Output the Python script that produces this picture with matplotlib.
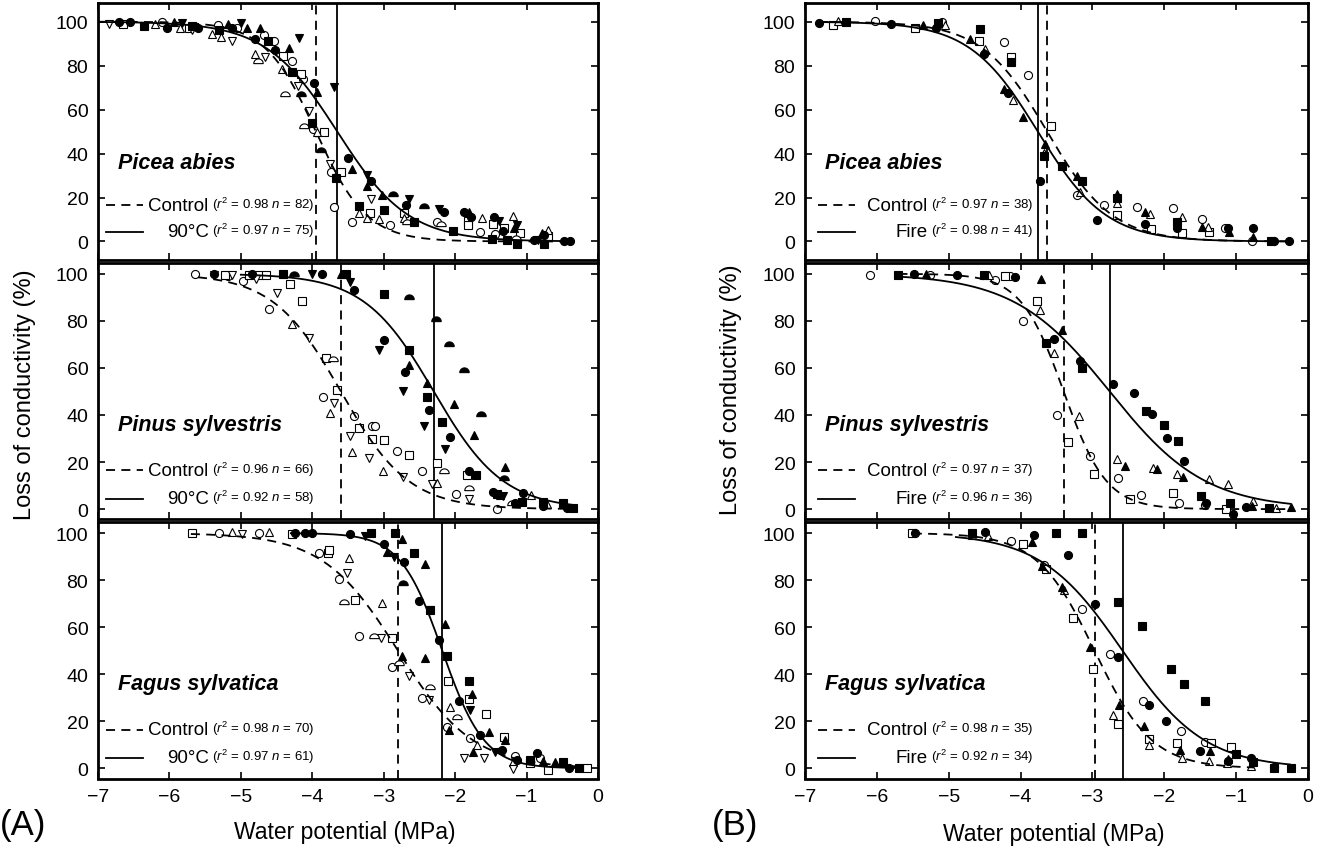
import numpy as np
import matplotlib
matplotlib.use("Agg")
import matplotlib.pyplot as plt
from matplotlib.path import Path

plt.rcParams['font.family'] = ['Liberation Sans', 'DejaVu Sans']
plt.rcParams['mathtext.fontset'] = 'custom'
plt.rcParams['mathtext.rm'] = 'Liberation Sans'
plt.rcParams['mathtext.it'] = 'Liberation Sans:italic'

# ---- data: (water potential MPa, loss of conductivity %, sample id) ----
# sample id: 1 circle, 2 square, 3 up-triangle, 4 down-triangle, 5 half disc
a1_control = [(-6.1,100,1),(-5.32,98.5,1),(-5.06,97,1),(-4.68,94,1),(-4.53,91,1),(-4.29,82,1),(-4.13,74,1),
              (-3.99,51.4,1),(-3.74,31.6,1),(-3.7,15.8,1),(-3.44,9,1),(-2.91,7.5,1),(-2.26,8.7,1),(-1.65,4.5,1),(-1.44,3.3,1),
              (-6.65,99,2),(-5.73,97,2),(-4.41,84.5,2),(-4.16,76,2),(-3.84,50,2),(-3.6,31.6,2),(-3.19,12.8,2),(-2.72,12.8,2),
              (-1.82,9.3,2),(-1.82,7.5,2),(-1.47,7.8,2),(-1.31,6,2),(-1.09,3.8,2),(-0.7,2.3,2),
              (-6.2,99,3),(-5.85,97,3),(-5.4,94.4,3),(-5.28,93,3),(-4.8,85.4,3),(-4.42,78.5,3),(-3.93,49.6,3),(-3.35,12.8,3),
              (-3.24,10.5,3),(-3.06,10.2,3),(-2.72,10.5,3),(-1.62,10.5,3),(-1.19,11.7,3),(-0.7,5.3,3),
              (-6.85,99,4),(-5.68,96,4),(-5.13,91.4,4),(-4.66,84,4),(-4.2,70.7,4),(-4.05,59.4,4),(-3.75,35.3,4),(-3.18,19.2,4),
              (-4.76,82,5),(-4.38,67,5),(-4.12,52.6,5),(-2.68,9,5),(-2.2,7.8,5),(-1.15,1.5,5)]
a1_treated = [(-6.7,100,1),(-6.55,100,1),(-6.03,97,1),(-5.6,97,1),(-5.12,97,1),(-4.8,92,1),(-4.52,87,1),(-3.97,72,1),
              (-3.5,37.9,1),(-3.18,27.4,1),(-2.69,16.5,1),(-2.16,13.5,1),(-1.88,13.5,1),(-1.78,11.3,1),(-1.46,11.3,1),
              (-1.33,4.8,1),(-0.9,0.75,1),(-0.75,3,1),(-0.48,0,1),(-0.39,0,1),
              (-6.35,98,2),(-5.68,98,2),(-5.3,96,2),(-4.62,91,2),(-4.28,77,2),(-4.0,53.7,2),(-3.67,28.9,2),(-3.35,16.2,2),
              (-2.99,14.3,2),(-2.57,9,2),(-2.03,4.8,2),(-1.49,1.3,2),(-1.27,0.75,2),(-1.13,-1.2,2),(-0.75,-1.2,2),
              (-5.94,100,3),(-5.18,99,3),(-4.91,97,3),(-4.73,97,3),(-4.32,88,3),(-3.94,68,3),(-3.44,33,3),(-3.24,25.4,3),
              (-3.02,21,3),(-1.8,13.2,3),(-1.18,6,3),(-0.79,3.8,3),
              (-5.82,99.5,4),(-5.0,99.5,4),(-4.18,92.5,4),(-3.7,70.4,4),(-3.24,30.4,4),(-2.64,19.2,4),(-2.23,14.6,4),
              (-1.38,9.3,4),(-1.14,7.5,4),(-0.84,0.75,4),
              (-4.16,67,5),(-3.88,41.8,5),(-2.87,21.4,5),(-2.44,16.2,5)]

a2_control = [(-5.64,100,1),(-5.18,99,1),(-4.97,97,1),(-4.61,85.2,1),(-3.85,47.5,1),(-3.42,39.6,1),(-3.16,35.4,1),
              (-3.12,35.4,1),(-2.81,24.6,1),(-2.47,16.1,1),(-1.99,6.6,1),(-1.42,0,1),
              (-5.22,99.7,2),(-4.88,99.7,2),(-4.75,99.7,2),(-4.65,99.4,2),(-4.31,95.8,2),(-4.14,88.4,2),(-3.81,64.2,2),
              (-3.65,50.6,2),(-3.35,34.5,2),(-3.16,29.7,2),(-2.99,29.3,2),(-2.65,22.9,2),(-2.26,19.7,2),(-1.84,14.4,2),
              (-4.28,78.6,3),(-3.75,40.8,3),(-3.44,24.3,3),(-3.01,16.1,3),(-2.26,11.3,3),(-1.37,5.9,3),(-0.94,5.9,3),(-0.72,2,3),
              (-5.38,99.7,4),(-5.13,99.4,4),(-4.79,97.9,4),(-4.5,92,4),(-4.05,72.6,4),(-3.69,45,4),(-3.47,31.1,4),
              (-3.21,21.8,4),(-2.73,13.7,4),(-2.33,10.5,4),(-1.8,4.5,4),
              (-3.71,63.7,5),(-2.16,16.1,5),(-1.8,8.8,5),(-1.21,2.4,5)]
a2_treated = [(-5.38,100,1),(-4.84,100,1),(-3.87,100,1),(-3.41,93,1),(-3.0,72,1),(-2.7,58.3,1),(-2.36,42.3,1),
              (-2.07,30.7,1),(-1.8,16.1,1),(-1.47,7.4,1),(-1.16,2.4,1),(-1.05,7,1),(-0.77,1.4,1),(-0.44,0.6,1),
              (-4.41,100,2),(-3.53,100,2),(-2.99,91.5,2),(-2.64,67.5,2),(-2.4,47.7,2),(-2.19,37.1,2),(-1.71,14.4,2),
              (-1.42,6.6,2),(-1.07,3.1,2),(-0.77,3.1,2),(-0.49,2.4,2),(-0.35,0.6,2),
              (-3.6,100,3),(-2.64,61.4,3),(-2.4,53.6,3),(-2.01,44.6,3),(-1.73,31.4,3),(-1.3,17.7,3),
              (-4.0,100,4),(-3.47,96.7,4),(-3.06,67.5,4),(-2.73,50,4),(-2.43,35.4,4),(-2.14,25.5,4),(-1.33,5.7,4),
              (-4.26,100,5),(-2.65,90,5),(-2.27,81,5),(-2.08,70,5),(-1.87,59,5),(-1.64,40.6,5),(-1.32,13.3,5)]

a3_control = [(-5.31,100,1),(-4.74,100,1),(-3.9,91.5,1),(-3.63,80.3,1),(-3.34,56.2,1),(-2.88,42.9,1),(-2.47,29.7,1),
              (-2.11,17.4,1),(-1.79,12.7,1),(-1.16,5.4,1),(-0.81,4.2,1),
              (-5.69,100,2),(-4.29,99.4,2),(-3.78,91.5,2),(-3.76,93,2),(-3.4,71.4,2),(-2.89,55.2,2),(-2.1,37.2,2),
              (-1.81,29.3,2),(-1.57,22.9,2),(-1.32,13.4,2),(-0.95,2.1,2),(-0.7,-0.7,2),(-0.16,0,2),
              (-5.12,100.4,3),(-4.61,100.4,3),(-3.48,89.5,3),(-3.03,70.3,3),(-2.07,26.2,3),(-1.69,9.9,3),(-1.19,2.8,3),
              (-4.99,99.4,4),(-3.52,83,4),(-3.04,55.6,4),(-2.65,39.2,4),(-2.37,29,4),(-1.88,4.5,4),(-1.59,4.2,4),(-1.19,-0.4,4),
              (-3.56,70.7,5),(-3.13,56.2,5),(-2.78,44.8,5),(-2.35,34.4,5),(-1.98,21.9,5)]
a3_treated = [(-4.24,100,1),(-4.1,100,1),(-4.0,100,1),(-3.47,99.4,1),(-3.0,95.2,1),(-2.72,87.7,1),(-2.5,71.1,1),
              (-2.23,54.7,1),(-1.95,28.7,1),(-1.65,14.1,1),(-1.35,7.8,1),(-1.14,3.5,1),(-0.86,6.6,1),(-0.4,0,1),
              (-3.18,100,2),(-2.84,100,2),(-2.58,91.5,2),(-2.35,67.2,2),(-2.12,47.7,2),(-1.81,37.2,2),(-0.95,3.5,2),
              (-0.49,2.8,2),(-0.26,0,2),
              (-2.95,92,3),(-2.74,97.6,3),(-2.42,87,3),(-2.14,61.5,3),(-2.74,47.7,3),(-2.42,47.1,3),(-1.77,31.8,3),
              (-2.08,16.5,3),(-1.53,15.6,3),(-1.3,12,3),(-1.75,7.1,3),(-0.77,3.3,3),(-0.6,2.5,3),
              (-3.26,98.6,4),(-2.86,89.8,4),(-2.35,67.2,4),(-1.79,24.8,4),(-1.44,7.1,4),
              (-2.73,78.8,5)]

b1_control = [(-6.03,100.3,1),(-5.09,99.9,1),(-4.23,90.6,1),(-3.89,75.6,1),(-3.22,21,1),(-2.84,16.5,1),(-2.38,15.7,1),
              (-1.88,15.3,1),(-1.47,10.2,1),(-1.16,6,1),(-0.78,0.3,1),
              (-6.61,98.4,2),(-5.47,97,2),(-4.58,91.3,2),(-4.13,83.8,2),(-3.57,52.7,2),(-2.66,12,2),(-2.18,5.7,2),
              (-1.76,3.7,2),(-1.38,4.5,2),
              (-6.54,100.3,3),(-5.05,98.5,3),(-4.49,87.6,3),(-4.11,64.4,3),(-3.67,40.4,3),(-3.17,22.5,3),(-2.66,17.7,3),
              (-2.2,12.3,3),(-1.76,11.2,3),(-1.39,6.7,3)]
b1_treated = [(-6.81,99.6,1),(-5.81,99.1,1),(-5.17,97.3,1),(-4.51,85.3,1),(-4.17,67.7,1),(-3.73,27.7,1),(-2.94,9.7,1),
              (-2.27,7.8,1),(-1.82,6.3,1),(-1.12,6.3,1),(-0.77,6.3,1),(-0.48,0.4,1),(-0.26,0,1),
              (-6.43,99.9,2),(-5.15,99.6,2),(-4.56,96.6,2),(-4.14,81.6,2),(-3.68,38.9,2),(-3.43,34.4,2),(-3.15,27.7,2),
              (-2.66,19.8,2),(-1.82,9,2),(-0.51,0,2),
              (-5.36,98.5,3),(-4.7,92,3),(-4.23,69.2,3),(-3.97,56.6,3),(-3.66,44.2,3),(-3.21,29.9,3),(-2.66,21.7,3),
              (-2.27,13.5,3),(-1.47,6.7,3),(-1.1,4.5,3),(-0.77,2.2,3)]

b2_control = [(-6.09,99.7,1),(-5.26,99.7,1),(-4.36,97.3,1),(-4.15,99,1),(-3.97,79.9,1),(-3.49,40.1,1),(-3.03,22.5,1),
              (-2.64,13.4,1),(-2.32,6.1,1),(-1.8,2.8,1),(-1.44,1.8,1),
              (-4.22,99,2),(-3.77,88.3,2),(-3.34,28.6,2),(-2.98,14.8,2),(-2.48,4.2,2),(-1.88,7,2),(-1.14,0,2),
              (-4.44,99.4,3),(-3.73,84.5,3),(-3.53,66.5,3),(-3.19,39.4,3),(-2.66,21.1,3),(-2.16,17.3,3),(-1.82,15.1,3),
              (-1.38,13,3),(-1.12,10.6,3),(-0.77,3.5,3),(-0.45,0.4,3)]
b2_treated = [(-5.49,100,1),(-4.89,99.7,1),(-4.08,98.6,1),(-3.53,72.5,1),(-3.17,63,1),(-2.71,53.1,1),(-2.42,49.3,1),
              (-2.17,40.4,1),(-1.96,30.3,1),(-1.73,20.4,1),(-1.42,2.8,1),(-1.05,-2.1,1),(-0.86,0.7,1),
              (-5.7,99.7,2),(-4.51,99.7,2),(-3.64,70.4,2),(-3.15,60.1,2),(-2.26,41.8,2),(-2.0,35.9,2),(-1.81,28.9,2),
              (-1.49,5.6,2),(-1.09,2.8,2),(-0.54,0.4,2),
              (-5.32,100,3),(-3.71,97.6,3),(-3.43,76.3,3),(-2.54,18.3,3),(-2.1,16.9,3),(-1.74,13.8,3),(-0.78,1.4,3),(-0.24,0.7,3)]

b3_control = [(-4.13,96.8,1),(-3.68,86.3,1),(-3.14,67.6,1),(-2.76,48.7,1),(-2.29,28.5,1),(-1.77,15.7,1),(-1.43,11.2,1),
              (-5.51,100,2),(-3.96,95.4,2),(-3.64,84.9,2),(-3.27,63.8,2),(-2.99,42.1,2),(-2.65,18.7,2),(-2.21,12.6,2),
              (-1.82,10.8,2),(-1.35,10.8,2),(-1.07,9.1,2),
              (-4.67,99.2,3),(-4.46,98.6,3),(-3.4,75.7,3),(-2.71,22.7,3),(-2.21,10.1,3),(-1.76,4.2,3),(-1.38,3.2,3),
              (-1.13,2.4,3),(-0.79,1.1,3)]
b3_treated = [(-5.47,100,1),(-4.5,100.3,1),(-3.81,99.3,1),(-3.34,90.7,1),(-2.97,69.7,1),(-2.64,47.3,1),(-2.21,26.9,1),
              (-1.97,20.3,1),(-1.5,7.4,1),(-1.12,3.2,1),(-0.79,4.2,1),(-0.47,0.4,1),
              (-4.68,100,2),(-3.51,100,2),(-3.14,100,2),(-2.65,70.5,2),(-2.31,60.3,2),(-1.91,42.1,2),(-1.73,35.8,2),
              (-1.43,28.8,2),(-1.0,5.9,2),(-0.77,2.8,2),(-0.47,0,2),(-0.24,0,2),
              (-3.84,96.4,3),(-3.7,86,3),(-3.43,77.1,3),(-3.03,51.5,3),(-2.63,27.1,3),(-2.28,18,3),(-1.78,7.7,3),
              (-1.37,7.4,3),(-1.12,3.8,3)]

# fitted curves: (P50, slope, psi start, psi end)
a1_fit = [(-3.95, 2.8, -7.0, -0.35), (-3.65, 2.0, -7.0, -0.35)]
a2_fit = [(-3.60, 2.1, -5.6, -0.4), (-2.30, 2.05, -5.0, -0.35)]
a3_fit = [(-2.80, 1.9, -5.7, -0.3), (-2.18, 3.4, -4.3, -0.3)]
b1_fit = [(-3.63, 2.2, -6.8, -0.25), (-3.76, 2.1, -6.8, -0.25)]
b2_fit = [(-3.40, 3.35, -5.7, -0.3), (-2.76, 1.5, -5.7, -0.25)]
b3_fit = [(-2.97, 2.5, -5.5, -0.75), (-2.58, 1.75, -4.9, -0.25)]

species = ["Picea abies", "Pinus sylvestris", "Fagus sylvatica"]
a_stats = [("0.98", "82", "0.97", "75"), ("0.96", "66", "0.92", "58"), ("0.98", "70", "0.97", "61")]
b_stats = [("0.97", "38", "0.98", "41"), ("0.97", "37", "0.96", "36"), ("0.98", "35", "0.92", "34")]


def vulnerability(psi, p50, slope):
    return 100.0 / (1.0 + np.exp(slope * (psi - p50)))


t = np.linspace(0, np.pi, 30)
half_disc = Path(np.column_stack([np.cos(t), np.sin(t) - 0.45]).tolist() + [[1, -0.45]], closed=False)
markers = {1: ('o', 5.8), 2: ('s', 5.8), 3: ('^', 6.3), 4: ('v', 6.3), 5: (half_disc, 6.8)}

fig = plt.figure(figsize=(13.22, 8.54), dpi=100)
W, H = 1322.0, 854.0
tops = [4, 263.5, 523]
height = 256.5


def draw_panel(ax, control, treated, fits, name, stats, label2, ylim, line_x, text_x):
    for pts, filled in ((control, False), (treated, True)):
        for sid in (1, 2, 3, 4, 5):
            sel = [(x, y) for x, y, s in pts if s == sid]
            if not sel:
                continue
            xs, ys = zip(*sel)
            m, ms = markers[sid]
            ax.plot(xs, ys, linestyle='none', marker=m, markersize=ms,
                    markerfacecolor='black' if filled else 'white',
                    markeredgecolor='black', markeredgewidth=0.8, zorder=3)
    for (p50, slope, x0, x1), ls in zip(fits, [(0, (5, 3.5)), '-']):
        psi = np.linspace(x0, x1, 300)
        ax.plot(psi, vulnerability(psi, p50, slope), color='black', lw=1.3, linestyle=ls, zorder=4)
        ax.axvline(p50, color='black', lw=1.3, linestyle=ls, zorder=2)
    ax.set_xlim(-7, 0)
    ax.set_ylim(*ylim)
    ax.set_xticks(range(-7, 1))
    ax.set_yticks(range(0, 101, 20))
    ax.tick_params(direction='in', length=5, width=1.2, top=True, right=True, labelsize=14, pad=7)
    for s in ax.spines.values():
        s.set_linewidth(2)
    # annotations
    ax.text(-6.72, 36, name, fontsize=15.5, fontweight='bold', fontstyle='italic', va='center', ha='left')
    r1, n1, r2, n2 = stats
    y1, y2 = 16.5, 4.5
    ax.plot([line_x[0], line_x[1]], [y1, y1], color='black', lw=1.3, linestyle=(0, (5, 3.5)))
    ax.plot([line_x[0], line_x[1]], [y2, y2], color='black', lw=1.3)
    ax.text(text_x - 0.05, y1, "Control", fontsize=13.5, ha='right', va='center')
    ax.text(text_x - 0.05, y2, label2, fontsize=13.5, ha='right', va='center')
    ax.text(text_x, y1 + 0.8, "($r^2$ = %s $n$ = %s)" % (r1, n1), fontsize=9.5, ha='left', va='center')
    ax.text(text_x, y2 + 0.8, "($r^2$ = %s $n$ = %s)" % (r2, n2), fontsize=9.5, ha='left', va='center')


cols = [
    (98, 500, [a1_control, a2_control, a3_control], [a1_treated, a2_treated, a3_treated],
     [a1_fit, a2_fit, a3_fit], a_stats, "90°C", (-6.89, -6.37), -5.40),
    (805, 503, [b1_control, b2_control, b3_control], [b1_treated, b2_treated, b3_treated],
     [b1_fit, b2_fit, b3_fit], b_stats, "Fire", (-6.82, -6.30), -5.25),
]
ylims = [(-8.2, 108.5), (-4.2, 104.8), (-4.3, 104.7)]

for left, width, ctrls, trts, fits, stats, lab2, lx, tx in cols:
    for i in range(3):
        ax = fig.add_axes([left / W, 1 - (tops[i] + height) / H, width / W, height / H])
        draw_panel(ax, ctrls[i], trts[i], fits[i], species[i], stats[i], lab2, ylims[i], lx, tx)
        if i < 2:
            ax.tick_params(labelbottom=False)

fig.text(25 / W, 1 - 395 / H, "Loss of conductivity (%)", rotation=90, fontsize=17, ha='center', va='center')
fig.text(731 / W, 1 - 390 / H, "Loss of conductivity (%)", rotation=90, fontsize=17, ha='center', va='center')
fig.text(345 / W, 1 - 833 / H, "Water potential (MPa)", fontsize=16.5, ha='center', va='center')
fig.text(1054 / W, 1 - 835 / H, "Water potential (MPa)", fontsize=16.5, ha='center', va='center')
fig.text(0 / W, 1 - 826 / H, "(A)", fontsize=25, ha='left', va='center')
fig.text(712 / W, 1 - 826 / H, "(B)", fontsize=25, ha='left', va='center')

fig.savefig("out.png", dpi=100)
